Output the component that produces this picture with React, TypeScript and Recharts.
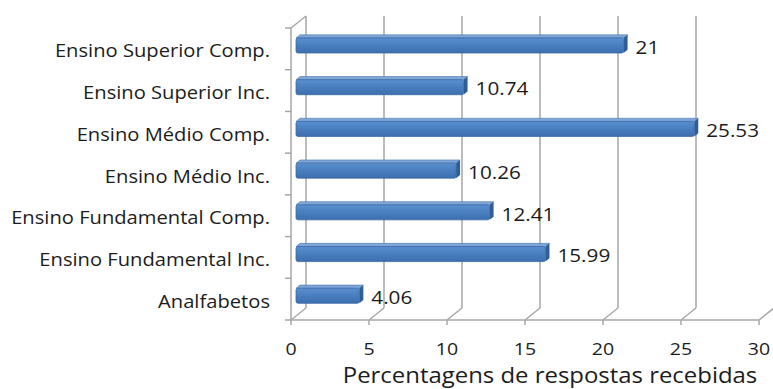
import React from 'react';
import { Bar, BarChart, CartesianGrid, LabelList, XAxis, YAxis } from 'recharts';

const categories = [
  'Ensino Superior Comp.',
  'Ensino Superior Inc.',
  'Ensino Médio Comp.',
  'Ensino Médio Inc.',
  'Ensino Fundamental Comp.',
  'Ensino Fundamental Inc.',
  'Analfabetos'
];
const percentages = [21, 10.74, 25.53, 10.26, 12.41, 15.99, 4.06];
const xTicks = [0, 5, 10, 15, 20, 25, 30];
const axisTitle = 'Percentagens de respostas recebidas';

const data = categories.map((name, i) => ({ name, value: percentages[i] }));

const W = 773;
const H = 389;
const TOP = 28;
const BOTTOM = 320;
const BAND = (BOTTOM - TOP) / categories.length;

// pseudo-3D offsets: back wall and bar depth
const WALL_DX = 15;
const WALL_DY = -12;
const BAR_DX = 5;
const BAR_DY = -3;
const DEPTH = 4;

const FONT = '"Open Sans", sans-serif';
const TEXT = '#1c1c1c';
const GRID = '#a6a6a6';

// text drawn slightly wide, like the original office export
function WideText({ x, y, size, stretch = 1.1, anchor = 'start', baseline = 'central', children }: any) {
  return (
    <text
      transform={`translate(${x} ${y}) scale(${stretch} 1)`}
      textAnchor={anchor}
      dominantBaseline={baseline}
      fill={TEXT}
      fontFamily={FONT}
      fontSize={size}
    >
      {children}
    </text>
  );
}

function Bar3D(props: any) {
  const { x, y, width, height } = props;
  if (!width || width <= 0) return null;
  const fx = x + BAR_DX;
  const fy = y + BAR_DY;
  const d = DEPTH;
  return (
    <g>
      <polygon
        points={`${fx},${fy} ${fx + d},${fy - d * 0.8} ${fx + width + d},${fy - d * 0.8} ${fx + width},${fy}`}
        fill="#7ea6d8"
        stroke="#4a78b0"
        strokeWidth={0.6}
      />
      <polygon
        points={`${fx + width},${fy} ${fx + width + d},${fy - d * 0.8} ${fx + width + d},${fy + height - d * 0.8} ${fx + width},${fy + height}`}
        fill="#2f5d96"
      />
      <rect x={fx} y={fy} width={width} height={height} rx={2} fill="url(#barFront)" stroke="#3b6aa3" strokeWidth={0.8} />
    </g>
  );
}

function ValueLabel(props: any) {
  const { x, y, width, height, value } = props;
  return (
    <WideText x={x + width + BAR_DX + 12} y={y + BAR_DY + height / 2 + 1} size={19} stretch={1.09}>
      {value}
    </WideText>
  );
}

function WallLine(props: any) {
  const { x1, y1, y2, index } = props;
  const bx = x1 + WALL_DX;
  return (
    <g key={`wall-${index}`} stroke={GRID} strokeWidth={1.5} fill="none">
      <line x1={x1} y1={y2} x2={bx} y2={y2 + WALL_DY} />
      <line x1={bx} y1={y2 + WALL_DY} x2={bx} y2={y1 + WALL_DY} />
      {index === 0 && <line x1={x1} y1={y1} x2={bx} y2={y1 + WALL_DY} />}
    </g>
  );
}

function CategoryTick(props: any) {
  const { y, payload, index } = props;
  const ax = 291;
  return (
    <g>
      <WideText x={270} y={y + 2} size={18} stretch={1.12} anchor="end">
        {payload.value}
      </WideText>
      <line x1={ax - 6} y1={y - BAND / 2} x2={ax} y2={y - BAND / 2} stroke={GRID} strokeWidth={1.5} />
      {index === categories.length - 1 && (
        <line x1={ax - 6} y1={y + BAND / 2} x2={ax} y2={y + BAND / 2} stroke={GRID} strokeWidth={1.5} />
      )}
    </g>
  );
}

function ValueTick(props: any) {
  const { x, y, payload } = props;
  return (
    <WideText x={x} y={y + 21} size={17} stretch={1.15} anchor="middle">
      {payload.value}
    </WideText>
  );
}

function AxisTitle(props: any) {
  const { viewBox } = props;
  const cx = viewBox.x + viewBox.width / 2 + 25;
  return (
    <WideText x={cx} y={382.5} size={21} stretch={1.14} anchor="middle" baseline="alphabetic">
      {axisTitle}
    </WideText>
  );
}

export default function App() {
  return (
    <div style={{ position: 'absolute', left: 0, top: 0, width: W, height: H, background: '#fff' }}>
      <BarChart
        width={W}
        height={H}
        data={data}
        layout="vertical"
        margin={{ top: TOP, right: 14, bottom: 0, left: 0 }}
        barCategoryGap={0}
      >
        <defs>
          <linearGradient id="barFront" x1="0" y1="0" x2="0" y2="1">
            <stop offset="0%" stopColor="#5a8fd0" />
            <stop offset="45%" stopColor="#4a7fc0" />
            <stop offset="100%" stopColor="#3d6fae" />
          </linearGradient>
        </defs>
        <CartesianGrid horizontal={false} vertical={WallLine} />
        <XAxis
          type="number"
          domain={[0, 30]}
          ticks={xTicks}
          height={H - BOTTOM}
          axisLine={{ stroke: GRID, strokeWidth: 1.5 }}
          tickLine={{ stroke: GRID, strokeWidth: 1.5 }}
          tickSize={5}
          tick={<ValueTick />}
          label={<AxisTitle />}
        />
        <YAxis
          type="category"
          dataKey="name"
          width={291}
          axisLine={{ stroke: GRID, strokeWidth: 1.5 }}
          tickLine={false}
          tickMargin={0}
          tick={<CategoryTick />}
        />
        <Bar dataKey="value" barSize={15} shape={<Bar3D />} isAnimationActive={false}>
          <LabelList dataKey="value" content={<ValueLabel />} />
        </Bar>
      </BarChart>
    </div>
  );
}
